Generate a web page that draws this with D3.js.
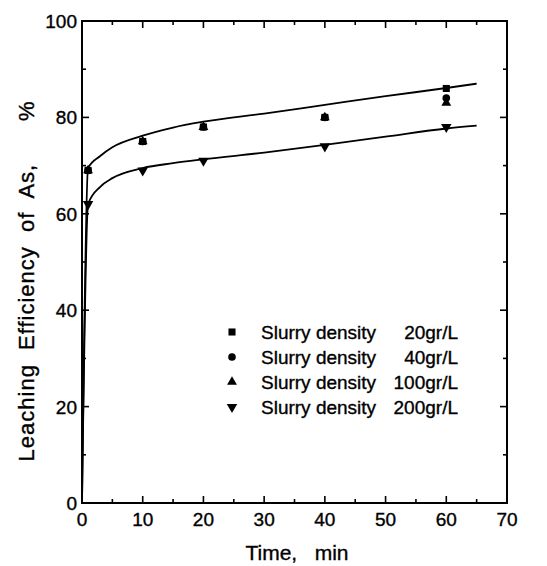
<!DOCTYPE html>
<html><head><meta charset="utf-8">
<script src="https://cdn.jsdelivr.net/npm/d3@7"></script>
<style>body{margin:0;background:#fff}svg{display:block}text{font-family:"Liberation Sans",Arial,sans-serif;fill:#000;stroke:#000;stroke-width:0.35px}</style>
</head><body><svg id="c" width="547" height="566"></svg>
<script>
const times = [1, 10, 20, 40, 60];
const s20 = [69, 75, 78, 80, 86];
const s40 = [69, 75, 78, 80, 84];
const s100 = [69, 75, 78, 80, 83];
const s200 = [62, 69, 71, 74, 78];
const fitUpperT = [0, 1, 3, 5, 10, 15, 20, 30, 40, 50, 60, 65];
const fitUpperY = [0, 69.5, 72, 73.8, 76.2, 77.9, 79.1, 80.8, 82.6, 84.4, 86.1, 87];
const fitLowerT = [0, 1, 3, 5, 10, 15, 20, 30, 40, 50, 60, 65];
const fitLowerY = [0, 62, 65.6, 67.4, 69.5, 70.5, 71.3, 72.7, 74.3, 76, 77.7, 78.3];
const xTicks = [0, 10, 20, 30, 40, 50, 60, 70];
const yTicks = [0, 20, 40, 60, 80, 100];
const legendLabels = ["Slurry density", "Slurry density", "Slurry density", "Slurry density"];
const legendValues = ["20gr/L", "40gr/L", "100gr/L", "200gr/L"];
const xTitle = "Time,   min";
const yTitle = "Leaching  Efficiency  of  As,      %";

const svg = d3.select("#c");
const L = 82, R = 507, T = 21, B = 503;
const x = d3.scaleLinear().domain([0, 70]).range([L, R]);
const y = d3.scaleLinear().domain([0, 100]).range([B, T]);

svg.append("rect").attr("x", L).attr("y", T).attr("width", R - L).attr("height", B - T)
  .attr("fill", "none").attr("stroke", "#000").attr("stroke-width", 2);

const g = svg.append("g");
const xMinor = d3.range(5, 70, 10);
const yMinor = d3.range(10, 100, 20);
function tickLines(vals, len, isX) {
  vals.forEach(v => {
    if (isX) {
      g.append("line").attr("x1", x(v)).attr("x2", x(v)).attr("y1", B).attr("y2", B - len).attr("stroke", "#000").attr("stroke-width", 1.6);
      g.append("line").attr("x1", x(v)).attr("x2", x(v)).attr("y1", T).attr("y2", T + len).attr("stroke", "#000").attr("stroke-width", 1.6);
    } else {
      g.append("line").attr("y1", y(v)).attr("y2", y(v)).attr("x1", L).attr("x2", L + len).attr("stroke", "#000").attr("stroke-width", 1.6);
      g.append("line").attr("y1", y(v)).attr("y2", y(v)).attr("x1", R).attr("x2", R - len).attr("stroke", "#000").attr("stroke-width", 1.6);
    }
  });
}
tickLines(xTicks, 7, true); tickLines(xMinor, 4, true);
tickLines(yTicks, 7, false); tickLines(yMinor, 4, false);

svg.append("g").selectAll("text").data(xTicks).join("text")
  .attr("x", d => x(d)).attr("y", 526).attr("text-anchor", "middle")
  .attr("font-size", 19).text(d => d);
svg.append("g").selectAll("text").data(yTicks).join("text")
  .attr("x", 77).attr("y", d => y(d) + 7).attr("text-anchor", "end")
  .attr("font-size", 19).text(d => d);

svg.append("text").attr("x", 297).attr("y", 560).attr("text-anchor", "middle")
  .attr("font-size", 21).style("white-space", "pre").text(xTitle);
svg.append("text").attr("transform", `translate(34,281) rotate(-90)`)
  .attr("text-anchor", "middle").attr("font-size", 22).attr("letter-spacing", 1)
  .style("white-space", "pre").text(yTitle);

const line = d3.line().x(d => x(d[0])).y(d => y(d[1])).curve(d3.curveMonotoneX);
[[fitUpperT, fitUpperY], [fitLowerT, fitLowerY]].forEach(([ts, ys]) => {
  svg.append("path").attr("d", line(ts.map((t, i) => [t, ys[i]])))
    .attr("fill", "none").attr("stroke", "#000").attr("stroke-width", 1.8);
});

const sym = {
  square: d3.symbol().type(d3.symbolSquare).size(50),
  circle: d3.symbol().type(d3.symbolCircle).size(46),
  up: d3.symbol().type(d3.symbolTriangle).size(42),
  down: d3.symbol().type(d3.symbolTriangle).size(48)
};
const series = [
  {vals: s100, s: "up", rot: 0},
  {vals: s40, s: "circle", rot: 0},
  {vals: s200, s: "down", rot: 180},
  {vals: s20, s: "square", rot: 0}
];
series.forEach(se => {
  svg.append("g").selectAll("path").data(times).join("path")
    .attr("d", sym[se.s]())
    .attr("transform", (t, i) => `translate(${x(t)},${y(se.vals[i])}) rotate(${se.rot})`)
    .attr("fill", "#000");
});

const legSyms = [["square", 0], ["circle", 0], ["up", 0], ["down", 180]];
const legY = [332, 357, 382, 407];
legSyms.forEach((ls, i) => {
  svg.append("path").attr("d", sym[ls[0]]())
    .attr("transform", `translate(232,${legY[i]}) rotate(${ls[1]})`).attr("fill", "#000");
  svg.append("text").attr("x", 261).attr("y", legY[i] + 7).attr("font-size", 19).text(legendLabels[i]);
  svg.append("text").attr("x", 458).attr("y", legY[i] + 7).attr("font-size", 19).attr("text-anchor", "end").text(legendValues[i]);
});
</script></body></html>
